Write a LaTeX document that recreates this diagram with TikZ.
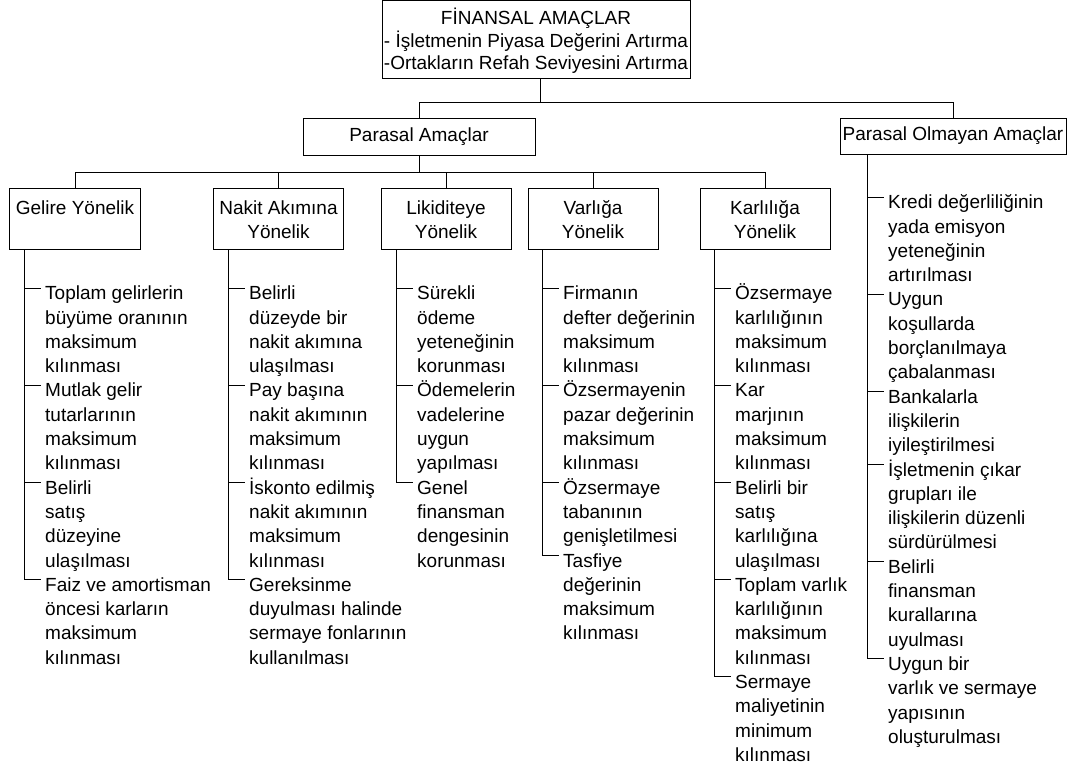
\documentclass[tikz,border=0pt]{standalone}
\usepackage{fontspec}
\setmainfont{Liberation Sans}
\newcommand{\topst}{\rule{0pt}{23bp}}
\begin{document}
\begin{tikzpicture}[x=1bp,y=-1bp,
  every node/.style={inner sep=0pt, font=\fontsize{19bp}{24.3bp}\selectfont},
  box/.style={draw, line width=1bp, align=center},
  lvl/.style={box, minimum width=130bp, minimum height=61bp},
  item/.style={anchor=north west, align=left},
  ln/.style={line width=1bp}]
\useasboundingbox (0,0) rectangle (1068,765);

% top level
\node[box, minimum width=308bp, minimum height=77bp, font=\fontsize{19bp}{22.5bp}\selectfont] (fin) at (536,39.5)
  {\rule{0pt}{22bp}F\.INANSAL AMAÇLAR\\- İşletmenin Piyasa Değerini Artırma\\-Ortakların Refah Seviyesini Artırma\strut};
\node[box, minimum width=232bp, minimum height=37bp] (par) at (419,136.5) {\strut Parasal Amaçlar};
\node[box, minimum width=226bp, minimum height=36bp] (pol) at (953,136) {\strut Parasal Olmayan Amaçlar};

\coordinate (j1) at (540,102);
\coordinate (j2) at (419,172);
\draw[ln] (fin.south -| j1) -- (j1);
\draw[ln] (par.north) -- (par.north |- j1) -- (pol.north |- j1) -- (pol.north);

% third level
\node[lvl] (gel) at (75,218.5) {\topst Gelire Yönelik\\\strut};
\node[lvl] (nak) at (278.5,218.5) {\topst Nakit Akımına\\\strut Yönelik};
\node[lvl] (lik) at (446,218.5) {\topst Likiditeye\\\strut Yönelik};
\node[lvl] (var) at (593,218.5) {\topst Varlığa\\\strut Yönelik};
\node[lvl] (kar) at (765,218.5) {\topst Karlılığa\\\strut Yönelik};

\draw[ln] (par.south) -- (j2);
\draw[ln] (gel.north) -- (gel.north |- j2) -- (kar.north |- j2) -- (kar.north);
\draw[ln] (nak.north) -- (nak.north |- j2);
\draw[ln] (lik.north) -- (lik.north |- j2);
\draw[ln] (var.north) -- (var.north |- j2);

% Gelire
\node[item] (g1) at (45,282.5) {\strut Toplam gelirlerin\\büyüme oranının\\maksimum\\kılınması};
\node[item] (g2) at (45,379.7) {\strut Mutlak gelir\\tutarlarının\\maksimum\\kılınması};
\node[item] (g3) at (45,476.9) {\strut Belirli\\satış\\düzeyine\\ulaşılması};
\node[item] (g4) at (45,574.1) {\strut Faiz ve amortisman\\öncesi karların\\maksimum\\kılınması};
\draw[ln] ([xshift=15bp]gel.south west) |- ([xshift=-4bp,yshift=-5.5bp]g4.north west);
\foreach \n in {g1,g2,g3}
  \draw[ln] ([xshift=-20bp,yshift=-5.5bp]\n.north west) -- ([xshift=-4bp,yshift=-5.5bp]\n.north west);

% Nakit
\node[item] (n1) at (249,282.5) {\strut Belirli\\düzeyde bir\\nakit akımına\\ulaşılması};
\node[item] (n2) at (249,379.7) {\strut Pay başına\\nakit akımının\\maksimum\\kılınması};
\node[item] (n3) at (249,476.9) {\strut İskonto edilmiş\\nakit akımının\\maksimum\\kılınması};
\node[item] (n4) at (249,574.1) {\strut Gereksinme\\duyulması halinde\\sermaye fonlarının\\kullanılması};
\draw[ln] ([xshift=15.5bp]nak.south west) |- ([xshift=-4bp,yshift=-5.5bp]n4.north west);
\foreach \n in {n1,n2,n3}
  \draw[ln] ([xshift=-20bp,yshift=-5.5bp]\n.north west) -- ([xshift=-4bp,yshift=-5.5bp]\n.north west);

% Likiditeye
\node[item] (l1) at (417,282.5) {\strut Sürekli\\ödeme\\yeteneğinin\\korunması};
\node[item] (l2) at (417,379.7) {\strut Ödemelerin\\vadelerine\\uygun\\yapılması};
\node[item] (l3) at (417,476.9) {\strut Genel\\finansman\\dengesinin\\korunması};
\draw[ln] ([xshift=16bp]lik.south west) |- ([xshift=-4bp,yshift=-5.5bp]l3.north west);
\foreach \n in {l1,l2}
  \draw[ln] ([xshift=-20bp,yshift=-5.5bp]\n.north west) -- ([xshift=-4bp,yshift=-5.5bp]\n.north west);

% Varliga
\node[item] (v1) at (563,282.5) {\strut Firmanın\\defter değerinin\\maksimum\\kılınması};
\node[item] (v2) at (563,379.7) {\strut Özsermayenin\\pazar değerinin\\maksimum\\kılınması};
\node[item] (v3) at (563,476.9) {\strut Özsermaye\\tabanının\\genişletilmesi};
\node[item] (v4) at (563,549.8) {\strut Tasfiye\\değerinin\\maksimum\\kılınması};
\draw[ln] ([xshift=15bp]var.south west) |- ([xshift=-4bp,yshift=-5.5bp]v4.north west);
\foreach \n in {v1,v2,v3}
  \draw[ln] ([xshift=-20bp,yshift=-5.5bp]\n.north west) -- ([xshift=-4bp,yshift=-5.5bp]\n.north west);

% Karliliga
\node[item] (k1) at (735,282.5) {\strut Özsermaye\\karlılığının\\maksimum\\kılınması};
\node[item] (k2) at (735,379.7) {\strut Kar\\marjının\\maksimum\\kılınması};
\node[item] (k3) at (735,476.9) {\strut Belirli bir\\satış\\karlılığına\\ulaşılması};
\node[item] (k4) at (735,574.1) {\strut Toplam varlık\\karlılığının\\maksimum\\kılınması};
\node[item] (k5) at (735,671.3) {\strut Sermaye\\maliyetinin\\minimum\\kılınması};
\draw[ln] ([xshift=15bp]kar.south west) |- ([xshift=-4bp,yshift=-5.5bp]k5.north west);
\foreach \n in {k1,k2,k3,k4}
  \draw[ln] ([xshift=-20bp,yshift=-5.5bp]\n.north west) -- ([xshift=-4bp,yshift=-5.5bp]\n.north west);

% Parasal Olmayan
\node[item] (p1) at (888,191.5) {\strut Kredi değerliliğinin\\yada emisyon\\yeteneğinin\\artırılması};
\node[item] (p2) at (888,288.7) {\strut Uygun\\koşullarda\\borçlanılmaya\\çabalanması};
\node[item] (p3) at (888,385.9) {\strut Bankalarla\\ilişkilerin\\iyileştirilmesi};
\node[item] (p4) at (888,458.8) {\strut İşletmenin çıkar\\grupları ile\\ilişkilerin düzenli\\sürdürülmesi};
\node[item] (p5) at (888,556) {\strut Belirli\\finansman\\kurallarına\\uyulması};
\node[item] (p6) at (888,653.2) {\strut Uygun bir\\varlık ve sermaye\\yapısının\\oluşturulması};
\draw[ln] ([xshift=28bp]pol.south west) |- ([xshift=-4bp,yshift=-5.5bp]p6.north west);
\foreach \n in {p1,p2,p3,p4,p5}
  \draw[ln] ([xshift=-20bp,yshift=-5.5bp]\n.north west) -- ([xshift=-4bp,yshift=-5.5bp]\n.north west);
\end{tikzpicture}
\end{document}
